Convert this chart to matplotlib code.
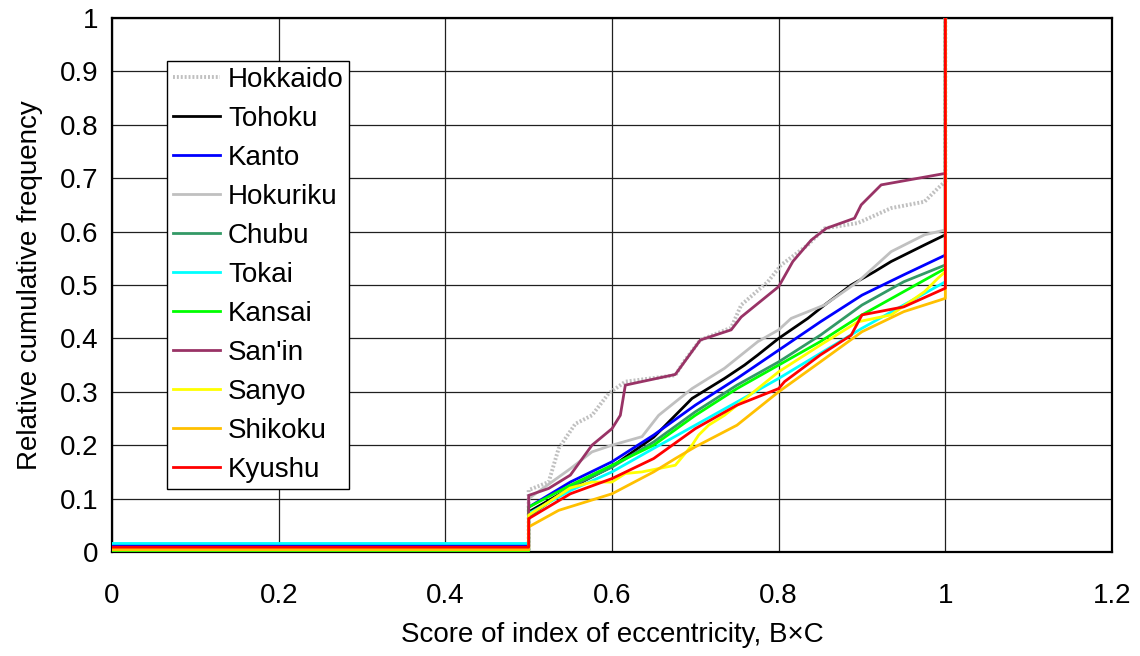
import matplotlib
matplotlib.use("Agg")
import matplotlib.pyplot as plt

plt.rcParams["font.family"] = ["Liberation Sans", "DejaVu Sans"]

# ------------------------------------------------------------
# Data (cumulative frequency curves)
# ------------------------------------------------------------
regions = ["Hokkaido", "Tohoku", "Kanto", "Hokuriku", "Chubu", "Tokai",
           "Kansai", "San'in", "Sanyo", "Shikoku", "Kyushu"]

x_hokkaido = [0, 0.5, 0.5, 0.524, 0.536, 0.556, 0.576, 0.596, 0.616, 0.676, 0.686, 0.706,
              0.743, 0.755, 0.787, 0.803, 0.835, 0.855, 0.895, 0.935, 0.975, 0.991, 1.0, 1.0]
y_hokkaido = [0.004, 0.004, 0.116, 0.131, 0.194, 0.24, 0.256, 0.297, 0.319, 0.331, 0.356, 0.397,
              0.42, 0.4625, 0.506, 0.5375, 0.575, 0.606, 0.616, 0.644, 0.656, 0.681, 0.694, 1.0]

x_tohoku = [0, 0.5, 0.5, 0.55, 0.6, 0.65, 0.696, 0.735, 0.759, 0.775, 0.8, 0.835, 0.855,
            0.887, 0.915, 0.935, 0.975, 1.0, 1.0]
y_tohoku = [0.003, 0.003, 0.075, 0.12, 0.16, 0.215, 0.2875, 0.325, 0.35, 0.369, 0.4, 0.4375,
            0.4625, 0.5, 0.525, 0.544, 0.575, 0.594, 1.0]

x_common = [0, 0.5, 0.5, 0.55, 0.6, 0.65, 0.7, 0.75, 0.8, 0.85, 0.9, 0.95, 1.0, 1.0]
y_kanto = [0.013, 0.013, 0.084, 0.131, 0.169, 0.219, 0.275, 0.325, 0.378, 0.431, 0.481, 0.519, 0.556, 1.0]
y_chubu = [0.003, 0.003, 0.066, 0.122, 0.159, 0.206, 0.2625, 0.3125, 0.356, 0.406, 0.4625, 0.506, 0.5375, 1.0]
y_kansai = [0.001, 0.001, 0.084, 0.125, 0.1625, 0.2, 0.256, 0.306, 0.35, 0.394, 0.444, 0.4875, 0.531, 1.0]
y_tokai = [0.016, 0.016, 0.072, 0.115, 0.15, 0.194, 0.2375, 0.281, 0.325, 0.372, 0.419, 0.4625, 0.506, 1.0]

x_hokuriku = [0, 0.5, 0.5, 0.55, 0.576, 0.6, 0.636, 0.656, 0.696, 0.735, 0.775, 0.8, 0.815,
              0.855, 0.895, 0.935, 0.975, 1.0, 1.0]
y_hokuriku = [0.004, 0.004, 0.1, 0.156, 0.1875, 0.2, 0.216, 0.256, 0.306, 0.344, 0.394, 0.416,
              0.4375, 0.4625, 0.506, 0.5625, 0.594, 0.603, 1.0]

x_sanin = [0, 0.5, 0.5, 0.524, 0.55, 0.576, 0.6, 0.61, 0.616, 0.676, 0.706, 0.743, 0.755,
           0.8, 0.817, 0.839, 0.857, 0.891, 0.899, 0.923, 1.0, 1.0]
y_sanin = [0.005, 0.005, 0.106, 0.119, 0.144, 0.2, 0.231, 0.256, 0.3125, 0.3325, 0.397, 0.416,
           0.44, 0.497, 0.544, 0.584, 0.606, 0.625, 0.65, 0.6875, 0.709, 1.0]

x_sanyo = [0, 0.5, 0.5, 0.55, 0.576, 0.6, 0.616, 0.636, 0.676, 0.696, 0.704, 0.716, 0.735,
           0.775, 0.8, 0.85, 0.895, 0.935, 0.975, 0.991, 1.0, 1.0]
y_sanyo = [0.005, 0.005, 0.069, 0.12, 0.131, 0.131, 0.147, 0.15, 0.1625, 0.2, 0.219, 0.2375,
           0.256, 0.306, 0.3375, 0.3875, 0.431, 0.444, 0.4875, 0.5125, 0.525, 1.0]

x_shikoku = [0, 0.5, 0.5, 0.536, 0.6, 0.65, 0.676, 0.7, 0.75, 0.8, 0.85, 0.9, 0.95, 1.0, 1.0]
y_shikoku = [0.004, 0.004, 0.047, 0.078, 0.109, 0.15, 0.175, 0.197, 0.2375, 0.3, 0.356, 0.4125,
             0.45, 0.475, 1.0]

x_kyushu = [0, 0.5, 0.5, 0.55, 0.6, 0.65, 0.7, 0.75, 0.8, 0.807, 0.85, 0.887, 0.9, 0.95, 1.0, 1.0]
y_kyushu = [0.009, 0.009, 0.0625, 0.109, 0.1375, 0.175, 0.231, 0.275, 0.306, 0.319, 0.369,
            0.406, 0.444, 0.459, 0.494, 1.0]

series_x = [x_hokkaido, x_tohoku, x_common, x_hokuriku, x_common, x_common,
            x_common, x_sanin, x_sanyo, x_shikoku, x_kyushu]
series_y = [y_hokkaido, y_tohoku, y_kanto, y_hokuriku, y_chubu, y_tokai,
            y_kansai, y_sanin, y_sanyo, y_shikoku, y_kyushu]

colors = ["#c0c0c0", "#000000", "#0000ff", "#c0c0c0", "#339966", "#00ffff",
          "#00ff00", "#993366", "#ffff00", "#ffc000", "#ff0000"]

x_ticks = [0, 0.2, 0.4, 0.6, 0.8, 1.0, 1.2]
x_tick_labels = ["0", "0.2", "0.4", "0.6", "0.8", "1", "1.2"]
y_ticks = [0, 0.1, 0.2, 0.3, 0.4, 0.5, 0.6, 0.7, 0.8, 0.9, 1.0]
y_tick_labels = ["0", "0.1", "0.2", "0.3", "0.4", "0.5", "0.6", "0.7", "0.8", "0.9", "1"]

# ------------------------------------------------------------
# Plot
# ------------------------------------------------------------
fig = plt.figure(figsize=(11.4, 6.56), dpi=100)
ax = fig.add_axes([112 / 1140, 1 - 552 / 656, 1000 / 1140, 534 / 656])

for name, xs, ys, c in zip(regions, series_x, series_y, colors):
    if name == "Hokkaido":
        ax.plot(xs, ys, color=c, lw=2.8, ls=(0, (0.5, 0.5)), label=name, zorder=3)
    else:
        ax.plot(xs, ys, color=c, lw=2.0, label=name, zorder=3)

ax.set_xlim(0, 1.2)
ax.set_ylim(0, 1)
ax.set_xticks(x_ticks)
ax.set_xticklabels(x_tick_labels)
ax.set_yticks(y_ticks)
ax.set_yticklabels(y_tick_labels)
ax.tick_params(axis="both", length=0, labelsize=20)
ax.tick_params(axis="x", pad=22)
ax.tick_params(axis="y", pad=10)
ax.grid(True, color="#202020", lw=0.9, zorder=1)
for sp in ax.spines.values():
    sp.set_linewidth(1.6)
    sp.set_color("black")

ax.set_xlabel("Score of index of eccentricity, B×C", fontsize=20, labelpad=10)
ax.set_ylabel("Relative cumulative frequency", fontsize=20, labelpad=12)

leg = ax.legend(loc="upper left", bbox_to_anchor=(0.055, 0.9195), fontsize=20,
                frameon=True, fancybox=False, edgecolor="black", framealpha=1,
                handlelength=1.7, handletextpad=0.3, labelspacing=0.47,
                borderpad=0.2, borderaxespad=0)
leg.get_frame().set_linewidth(1.0)
leg.set_zorder(5)

fig.savefig("out.png", dpi=100)
